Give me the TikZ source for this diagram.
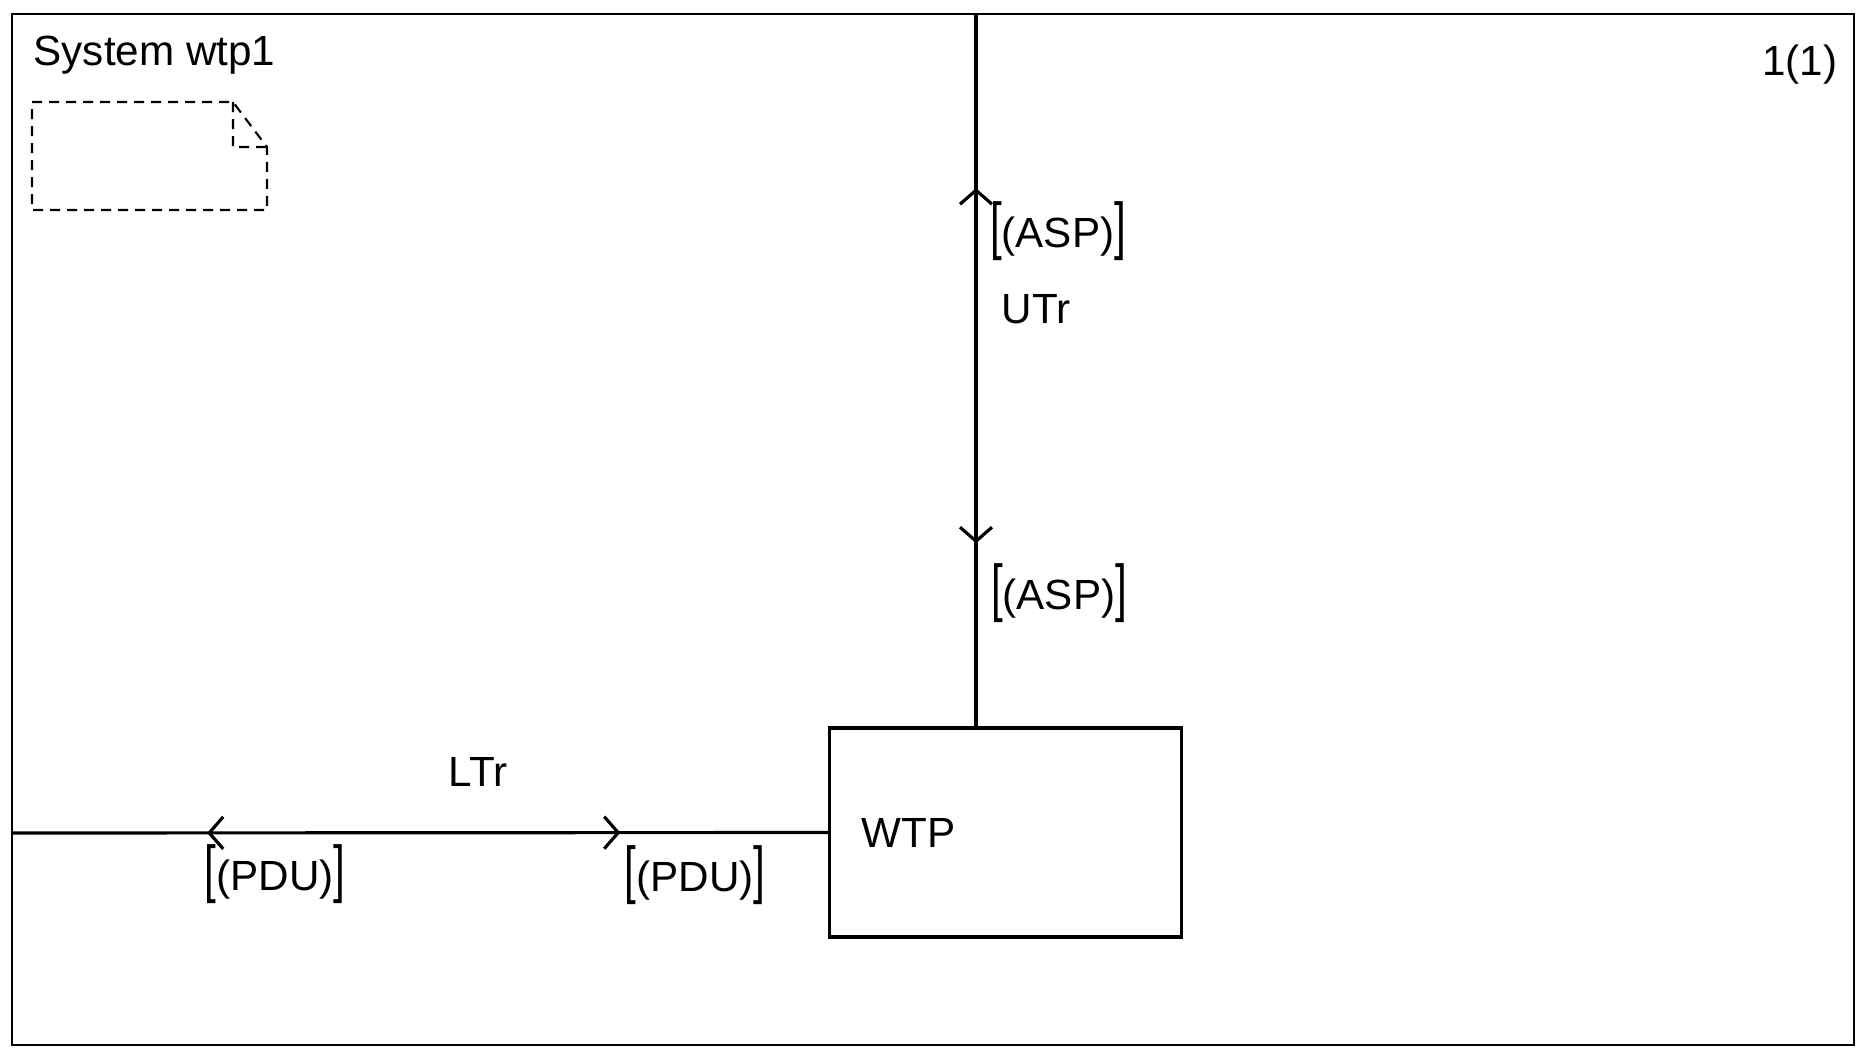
\documentclass[tikz,border=0pt]{standalone}
\usepackage{fontspec}
\setmainfont{Liberation Sans}
\usepackage{graphicx}
\usetikzlibrary{arrows.meta,positioning,decorations.markings}
\newcommand{\sigset}[1]{\scalebox{1}[1.5]{[}(#1)\scalebox{1}[1.5]{]}}

\begin{document}
\begin{tikzpicture}[x=0.01cm, y=-0.01cm,
  lbl/.style={font=\fontsize{12}{14}\selectfont, inner sep=0pt},
  block/.style={draw, line width=0.9pt, minimum height=2.09cm, text width=2.87cm, inner xsep=0.32cm, align=left, font=\fontsize{12}{14}\selectfont},
  chan/.style={line width=0.9pt, postaction={decorate}},
  >={Straight Barb[length=1.4mm, width=3.2mm]}]
\useasboundingbox (0,0) rectangle (1860,1048);
\draw[line width=0.8pt] (12,14) rectangle (1854,1045);
\node[lbl, anchor=base west] (title) at (33,65) {System wtp1};
\node[lbl, anchor=base east] (page) at (1838,75) {1(1)};
\draw[line width=0.6pt, dash pattern=on 1mm off 0.7mm] (32,102) -- (233,102) -- (267,147) -- (267,210) -- (32,210) -- cycle
  (233,102) -- (233,147) -- (267,147);

\node[block] (wtp) at (1005.5,832.5) {WTP};
\coordinate (ledge) at (12,833);
\coordinate (tedge) at (976,14);

\draw[chan, decoration={markings,
    mark=at position 1.95cm with {\arrowreversed{>}},
    mark=at position 6.08cm with {\arrow{>}}}] (ledge) -- (wtp.west);
\draw[chan, decoration={markings,
    mark=at position 1.74cm with {\arrowreversed{>}},
    mark=at position 5.29cm with {\arrow{>}}}] (tedge) -- (tedge |- wtp.north);

\node[lbl] (ltr) at (478,772) {LTr};
\node[lbl] (pdu1) at (275,874) {\sigset{PDU}};
\node[lbl] (pdu2) at (695,875) {\sigset{PDU}};
\node[lbl] (utr) at (1036,309) {UTr};
\node[lbl] (asp1) at (1058,231) {\sigset{ASP}};
\node[lbl] (asp2) at (1059,593) {\sigset{ASP}};
\end{tikzpicture}
\end{document}
